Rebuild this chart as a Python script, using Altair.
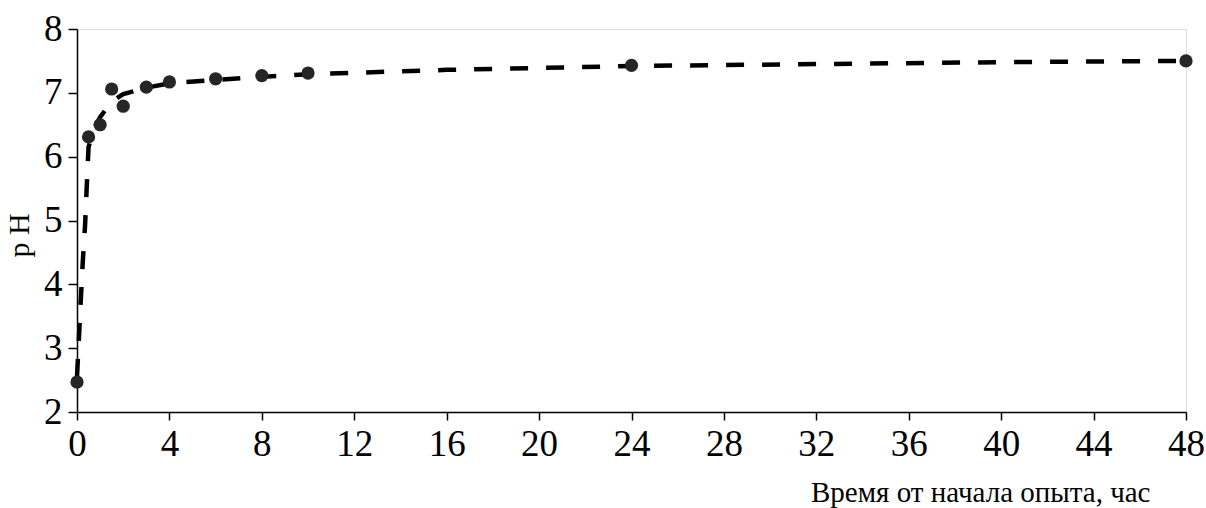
import altair as alt
import pandas as pd

# Measured points
hours = [0, 0.5, 1, 1.5, 2, 3, 4, 6, 8, 10, 24, 48]
ph = [2.47, 6.31, 6.50, 7.06, 6.79, 7.09, 7.17, 7.22, 7.27, 7.31, 7.43, 7.50]

# Dashed trend curve
curve_x = [0, 0.1, 0.17, 0.25, 0.35, 0.42, 0.5, 0.75, 1.0, 1.5, 2.0, 3.0, 4.0, 6.0, 8.0, 10.0, 16.0, 24.0, 32.0, 40.0, 48.0]
curve_y = [2.55, 3.28, 3.8, 4.35, 4.93, 5.52, 6.15, 6.45, 6.62, 6.86, 6.98, 7.08, 7.15, 7.2, 7.25, 7.29, 7.36, 7.42, 7.45, 7.48, 7.5]

x_ticks = list(range(0, 49, 4))
y_ticks = [2, 3, 4, 5, 6, 7, 8]

pts = pd.DataFrame({"t": hours, "ph": ph})
cur = pd.DataFrame({"t": curve_x, "ph": curve_y})

FONT = "Liberation Serif"

xs = alt.Scale(domain=[0, 48], nice=False, zero=False)
ys = alt.Scale(domain=[2, 8], nice=False, zero=False)

x_axis = alt.Axis(
    values=x_ticks, grid=False, title="Время от начала опыта, час", format="d",
    labelFont=FONT, labelFontSize=37, labelColor="black", labelPadding=6,
    tickColor="black", tickSize=8, tickWidth=1.5, domainColor="black", domainWidth=1.5,
    titleFont=FONT, titleFontSize=29, titleFontWeight="normal", titleColor="black",
    titleAlign="right", titleAnchor="end", titleBaseline="alphabetic",
    titleX=1073, titleY=89, labelFlush=False,
)
y_axis = alt.Axis(
    values=y_ticks, grid=False, title="p H", format="d",
    labelFont=FONT, labelFontSize=37, labelColor="black", labelPadding=6,
    tickColor="black", tickSize=9, tickWidth=1.5, domainColor="black", domainWidth=1.5,
    titleFont=FONT, titleFontSize=30, titleFontWeight="normal", titleColor="black",
    titleAngle=-90, titleAlign="center", titleBaseline="middle",
    titleX=-58, titleY=206, labelFlush=False,
)

line = alt.Chart(cur).mark_line(color="black", strokeWidth=4.5, strokeDash=[18, 18]).encode(
    x=alt.X("t:Q", scale=xs, axis=x_axis),
    y=alt.Y("ph:Q", scale=ys, axis=y_axis),
)
dots = alt.Chart(pts).mark_circle(color="#262626", opacity=1, size=175).encode(
    x=alt.X("t:Q", scale=xs),
    y=alt.Y("ph:Q", scale=ys),
)

chart = (line + dots).properties(
    width=1109, height=383,
    autosize=alt.AutoSizeParams(type="none"),
    padding={"left": 77, "top": 29, "right": 20, "bottom": 96},
).configure_view(stroke=None).configure(background="white")

chart.save("out.html", embed_options={"renderer": "svg", "actions": False})
